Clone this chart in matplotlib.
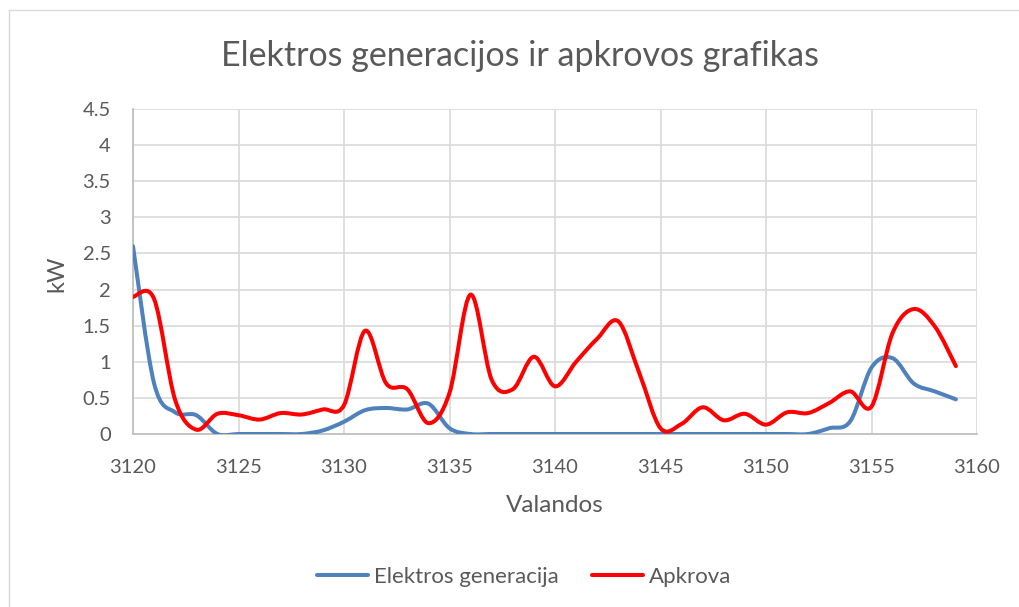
import numpy as np
import matplotlib
matplotlib.use('Agg')
import matplotlib.pyplot as plt
from matplotlib.path import Path
from matplotlib.patches import PathPatch
from matplotlib.lines import Line2D

plt.rcParams['font.family'] = ['Lato', 'DejaVu Sans']

# Hourly values
hours = list(range(3120, 3160))
generacija = [2.6, 0.7, 0.3, 0.26, 0.0, 0.0, 0.0, 0.0, 0.0, 0.05,
              0.17, 0.33, 0.36, 0.34, 0.42, 0.08, 0.0, 0.0, 0.0, 0.0,
              0.0, 0.0, 0.0, 0.0, 0.0, 0.0, 0.0, 0.0, 0.0, 0.0,
              0.0, 0.0, 0.0, 0.08, 0.18, 0.92, 1.05, 0.7, 0.59, 0.48]
apkrova = [1.9, 1.87, 0.47, 0.06, 0.28, 0.26, 0.2, 0.29, 0.27, 0.34,
           0.4, 1.43, 0.7, 0.62, 0.15, 0.57, 1.93, 0.75, 0.62, 1.07,
           0.66, 1.0, 1.32, 1.56, 0.84, 0.08, 0.14, 0.37, 0.19, 0.28,
           0.13, 0.3, 0.29, 0.43, 0.59, 0.38, 1.4, 1.73, 1.49, 0.94]

series_names = ['Elektros generacija', 'Apkrova']
series_colors = ['#4f81bd', '#ff0000']
y_ticks = [0, 0.5, 1, 1.5, 2, 2.5, 3, 3.5, 4, 4.5]
y_ticklabels = ['0', '0.5', '1', '1.5', '2', '2.5', '3', '3.5', '4', '4.5']
x_ticks = [3120, 3125, 3130, 3135, 3140, 3145, 3150, 3155, 3160]

text_color = '#595959'


def smooth_path(x, y):
    """Excel-like smoothed line: Catmull-Rom segments as cubic Beziers."""
    x = np.asarray(x, dtype=float)
    y = np.asarray(y, dtype=float)
    pts = np.column_stack([x, y])
    n = len(pts)
    verts = [pts[0]]
    codes = [Path.MOVETO]
    for i in range(n - 1):
        p0 = pts[i - 1] if i > 0 else pts[i]
        p1 = pts[i]
        p2 = pts[i + 1]
        p3 = pts[i + 2] if i + 2 < n else pts[i + 1]
        c1 = p1 + (p2 - p0) / 6.0
        c2 = p2 - (p3 - p1) / 6.0
        verts += [c1, c2, p2]
        codes += [Path.CURVE4] * 3
    return Path(verts, codes)


fig = plt.figure(figsize=(10.19, 6.07), dpi=100)
ax = fig.add_axes([133 / 1019, 1 - 434 / 607, (977 - 133) / 1019, (434 - 109) / 607])

for vals, color in zip([generacija, apkrova], series_colors):
    patch = PathPatch(smooth_path(hours, vals), facecolor='none', edgecolor=color,
                      linewidth=2.9, capstyle='round', joinstyle='round', zorder=3)
    ax.add_patch(patch)

ax.set_xlim(3120, 3160)
ax.set_ylim(0, 4.5)
ax.set_xticks(x_ticks)
ax.set_yticks(y_ticks)
ax.set_yticklabels(y_ticklabels)
ax.grid(True, color='#d9d9d9', linewidth=1.2)
ax.set_axisbelow(True)
ax.tick_params(axis='both', length=0, labelsize=14.5, colors=text_color)
ax.tick_params(axis='x', pad=18)
ax.tick_params(axis='y', pad=16)
for side in ['top', 'right']:
    ax.spines[side].set_visible(False)
for side in ['left', 'bottom']:
    ax.spines[side].set_color('#bfbfbf')
    ax.spines[side].set_linewidth(1.3)

fig.text(520 / 1019, 1 - 56 / 607, 'Elektros generacijos ir apkrovos grafikas',
         ha='center', va='center', fontsize=24.5, color=text_color)
fig.text(555 / 1019, 1 - 505 / 607, 'Valandos', ha='center', va='center',
         fontsize=17.5, color=text_color)
fig.text(57 / 1019, 1 - 274 / 607, 'kW', ha='center', va='center', rotation=90,
         fontsize=17, color=text_color)

handles = [Line2D([], [], color=c, linewidth=2.9, solid_capstyle='round') for c in series_colors]
leg = fig.legend(handles, series_names, loc='center', bbox_to_anchor=(524 / 1019, 1 - 577 / 607),
                 ncol=2, frameon=False, fontsize=16, handlelength=2.3,
                 handletextpad=0.25, columnspacing=1.5)
for t in leg.get_texts():
    t.set_color(text_color)

# chart area outline
fig.add_artist(Line2D([9 / 1019, 9 / 1019], [0, 1 - 10 / 607], color='#d9d9d9', linewidth=1.0))
fig.add_artist(Line2D([9 / 1019, 1], [1 - 10 / 607, 1 - 10 / 607], color='#d9d9d9', linewidth=1.0))

plt.savefig('out.png', dpi=100)
